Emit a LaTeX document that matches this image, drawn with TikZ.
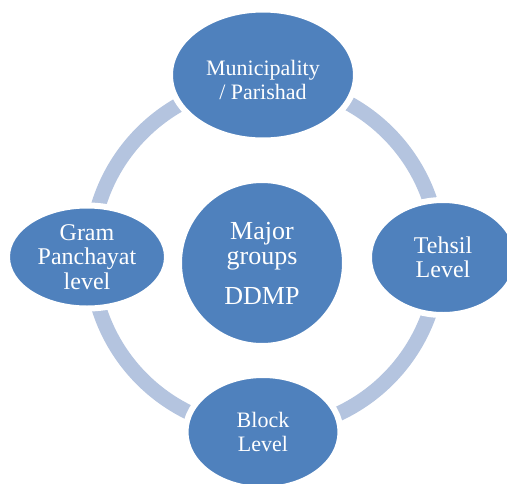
\documentclass[tikz,border=0pt]{standalone}
\usepackage{fontspec}
\setmainfont{Liberation Serif}
\usetikzlibrary{shapes.geometric}
\definecolor{nodeblue}{RGB}{79,129,189}
\definecolor{ringblue}{RGB}{180,196,223}
\tikzset{every picture/.style={line width=0.75pt}}
\tikzset{
  tier/.style={ellipse, fill=nodeblue, draw=white, line width=6pt, text=white, align=center, inner sep=0pt},
  hub/.style={circle, fill=nodeblue, draw=white, line width=6pt, text=white, align=center, inner sep=0pt},
}

\begin{document}
\begin{tikzpicture}[x=1pt,y=1pt,yscale=-1]
%set diagram size 507 x 483
\clip (0,0) rectangle (507,483);

%Shape: Ring
\draw [color=ringblue, line width=15pt] (265,256) circle (174);

%Shape: Circle
\node [hub, minimum size=166pt, font=\fontsize{26}{25.5}\selectfont] (ddmp) at (262,263) {Major\\groups\\[14pt]DDMP};

%Shape: Ellipse
\node [tier, minimum width=186pt, minimum height=131pt, text height=50pt, font=\fontsize{22}{24}\selectfont] (muni) at (263,75) {Municipality\\/ Parishad};
%Shape: Ellipse
\node [tier, minimum width=148pt, minimum height=115pt, font=\fontsize{24}{23.5}\selectfont] (tehsil) at (443,257.5) {Tehsil\\Level};
%Shape: Ellipse
\node [tier, minimum width=155pt, minimum height=114pt, font=\fontsize{22}{23.5}\selectfont] (block) at (263,432) {Block\\Level};
%Shape: Ellipse
\node [tier, minimum width=160pt, minimum height=103pt, font=\fontsize{24}{24.5}\selectfont] (gram) at (87,257) {Gram\\Panchayat\\level};

\end{tikzpicture}
\end{document}
